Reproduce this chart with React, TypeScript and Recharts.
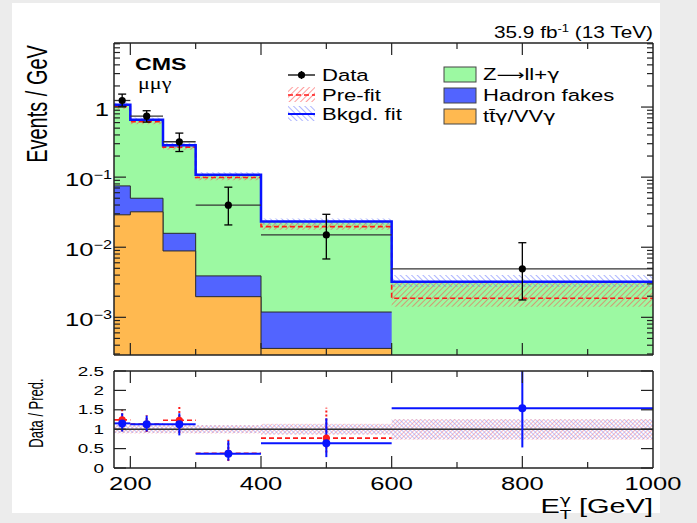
import React from 'react';
import { ComposedChart, Area, Line, Scatter, ErrorBar, XAxis, YAxis, ReferenceLine } from 'recharts';

// ---------- data ----------
const binEdges = [175, 200, 250, 300, 400, 600, 1000];
const binCenters = [187.5, 225, 275, 350, 500, 800];
const binHalfWidths = [12.5, 25, 25, 50, 100, 200];

// stacked histogram (Events / GeV)
const fitTotal = [1.08, 0.66, 0.286, 0.108, 0.0232, 0.00323]; // Z->ll+gamma stacked on top = total bkgd fit
const hadronFakes = [0.046, 0.018, 0.00695, 0.00193, 0.00083];
const ttgVVg = [0.029, 0.032, 0.00885, 0.00197, 0.00036];
const preFit = [1.02, 0.62, 0.268, 0.099, 0.0197, 0.00187];
const fitBandLow = [1.0, 0.61, 0.265, 0.1, 0.021, 0.0027];
const fitBandHigh = [1.17, 0.71, 0.31, 0.117, 0.0258, 0.004];
const preBandLow = [0.93, 0.57, 0.245, 0.09, 0.0178, 0.00142];
const preBandHigh = [1.1, 0.67, 0.29, 0.107, 0.0223, 0.0031];

const dataValues = [1.24, 0.74, 0.32, 0.0398, 0.015, 0.00492];
const dataLow = [1.02, 0.61, 0.232, 0.0208, 0.0068, 0.00177];
const dataHigh = [1.53, 0.886, 0.425, 0.0719, 0.0295, 0.0116];

// ratio panel
const ratioFit = [1.15, 1.13, 1.13, 0.37, 0.64, 1.54];
const ratioFitLow = [0.94, 0.94, 0.84, 0.19, 0.28, 0.53];
const ratioFitHigh = [1.41, 1.35, 1.41, 0.7, 1.28, 2.5];
const ratioPre = [1.24, 1.13, 1.23, 0.38, 0.77];
const ratioPreLow = [0.95, 0.93, 0.9, 0.18, 0.4];
const ratioPreHigh = [1.5, 1.36, 1.62, 0.73, 1.55];
const ratioFitBandLow = [0.9, 0.9, 0.9, 0.9, 0.87, 0.74];
const ratioFitBandHigh = [1.1, 1.1, 1.1, 1.1, 1.13, 1.25];
const ratioPreBandLow = [0.89, 0.89, 0.89, 0.89, 0.86, 0.73];
const ratioPreBandHigh = [1.11, 1.11, 1.11, 1.11, 1.14, 1.26];

// ticks
const xTicksTop = [200, 300, 400, 500, 600, 700, 800, 900];
const xTicksRatio = [200, 300, 400, 500, 600, 700, 800, 900, 1000];
const xMajor = [200, 400, 600, 800, 1000];
const yLogTicks = [
  0.0003, 0.0004, 0.0005, 0.0006, 0.0007, 0.0008, 0.0009,
  0.001, 0.002, 0.003, 0.004, 0.005, 0.006, 0.007, 0.008, 0.009,
  0.01, 0.02, 0.03, 0.04, 0.05, 0.06, 0.07, 0.08, 0.09,
  0.1, 0.2, 0.3, 0.4, 0.5, 0.6, 0.7, 0.8, 0.9,
  1, 2, 3, 4, 5, 6, 7, 8,
];
const yRatioTicks = [0, 0.5, 1, 1.5, 2, 2.5];
const yRatioLabels = ['0', '0.5', '1', '1.5', '2', '2.5'];

const Y_DOMAIN: [number, number] = [0.00029, 8.2];

// ---------- derived tables ----------
const stepValue = (arr: number[], i: number): number | null =>
  i < arr.length ? arr[i] : i === arr.length ? arr[arr.length - 1] : null;

const fakesStack = hadronFakes.map((v, i) => v + ttgVVg[i]);

const topRows = binEdges.map((x, i) => ({
  x,
  total: stepValue(fitTotal, i),
  fakesTop: stepValue(fakesStack, i),
  ttg: stepValue(ttgVVg, i),
  pre: stepValue(preFit, i),
  fitBand: [stepValue(fitBandLow, i), stepValue(fitBandHigh, i)],
  preBand: [stepValue(preBandLow, i), stepValue(preBandHigh, i)],
}));

const dataPoints = binCenters.map((x, i) => ({
  x,
  y: dataValues[i],
  ex: binHalfWidths[i],
  ey: [dataValues[i] - dataLow[i], dataHigh[i] - dataValues[i]],
}));

const ratioRows = binEdges.map((x, i) => ({
  x,
  fitBand: [stepValue(ratioFitBandLow, i), stepValue(ratioFitBandHigh, i)],
  preBand: [stepValue(ratioPreBandLow, i), stepValue(ratioPreBandHigh, i)],
}));

const ratioFitPoints = binCenters.map((x, i) => ({
  x,
  y: ratioFit[i],
  ex: binHalfWidths[i],
  ey: [ratioFit[i] - ratioFitLow[i], ratioFitHigh[i] - ratioFit[i]],
}));

const ratioPrePoints = ratioPre.map((v, i) => ({
  x: binCenters[i],
  y: v,
  ex: binHalfWidths[i],
  ey: [v - ratioPreLow[i], ratioPreHigh[i] - v],
}));

// ---------- styling helpers ----------
const FONT = '"Liberation Sans", Arial, Helvetica, sans-serif';
const GREEK = '"DejaVu Sans", "Liberation Sans", sans-serif';
const AXIS = { stroke: '#222', strokeWidth: 1.5 };
const TICK = '#222';

function ST(props: any) {
  const { x, y, size, sx = 1.35, anchor = 'start', weight = 'normal', family = FONT, fill = '#000', children } = props;
  return (
    <text
      transform={`translate(${x},${y}) scale(${sx},1)`}
      fontSize={size}
      textAnchor={anchor}
      fontWeight={weight}
      fontFamily={family}
      fill={fill}
    >
      {children}
    </text>
  );
}

const isDecade = (v: number) => Math.abs(Math.log10(v) - Math.round(Math.log10(v))) < 1e-6;

const LeftLogTick = (props: any) => {
  const { x, y, payload } = props;
  const v = payload.value;
  const major = isDecade(v);
  const exp = Math.round(Math.log10(v));
  return (
    <g>
      <line x1={x} y1={y} x2={x + (major ? 12 : 6)} y2={y} stroke={TICK} strokeWidth={1.2} />
      {major &&
        (exp === 0 ? (
          <ST x={x - 5} y={y + 9} size={19} anchor="end">1</ST>
        ) : (
          <ST x={x - 2} y={y + 9} size={19} anchor="end">
            10<tspan dy={-7} fontSize={12}>{'\u2212' + String(-exp)}</tspan>
          </ST>
        ))}
    </g>
  );
};

const RightLogTick = (props: any) => {
  const { x, y, payload } = props;
  const major = isDecade(payload.value);
  return <line x1={x} y1={y} x2={x - (major ? 12 : 6)} y2={y} stroke={TICK} strokeWidth={1.2} />;
};

const BottomTick = (withLabel: boolean) => (props: any) => {
  const { x, y, payload } = props;
  const v = payload.value;
  const major = xMajor.includes(v);
  return (
    <g>
      {v !== 1000 && <line x1={x} y1={y} x2={x} y2={y - (major ? 12 : 6)} stroke={TICK} strokeWidth={1.2} />}
      {withLabel && major && (
        <ST x={x} y={y + 22} size={18.5} sx={1.38} anchor="middle">{String(v)}</ST>
      )}
    </g>
  );
};

const TopTick = (props: any) => {
  const { x, y, payload } = props;
  const v = payload.value;
  if (v === 1000) return <g />;
  const major = xMajor.includes(v);
  return <line x1={x} y1={y} x2={x} y2={y + (major ? 12 : 6)} stroke={TICK} strokeWidth={1.2} />;
};

const RatioLeftTick = (props: any) => {
  const { x, y, payload, index } = props;
  return (
    <g>
      <line x1={x} y1={y} x2={x + 12} y2={y} stroke={TICK} strokeWidth={1.2} />
      <ST x={x - 10} y={y + 4.5} size={13} sx={1.45} anchor="end">{yRatioLabels[index] ?? String(payload.value)}</ST>
    </g>
  );
};

const RatioRightTick = (props: any) => {
  const { x, y } = props;
  return <line x1={x} y1={y} x2={x - 12} y2={y} stroke={TICK} strokeWidth={1.2} />;
};

const dot = (r: number, fill: string) => (p: any) => <circle cx={p.cx} cy={p.cy} r={r} fill={fill} />;

export default function App() {
  return (
    <div style={{ position: 'absolute', left: 0, top: 0, width: 697, height: 523, background: '#ececec', overflow: 'hidden' }}>
      <div style={{ position: 'absolute', left: 12, top: 3, width: 648, height: 510, background: '#ffffff' }} />
      <svg width={0} height={0} style={{ position: 'absolute' }}>
        <defs>
          <pattern id="hatchRed" patternUnits="userSpaceOnUse" width="4" height="4" patternTransform="rotate(45)">
            <line x1="0" y1="0" x2="0" y2="4" stroke="#ff4a4a" strokeWidth="1.1" />
          </pattern>
          <pattern id="hatchBlue" patternUnits="userSpaceOnUse" width="4" height="4" patternTransform="rotate(-45)">
            <line x1="0" y1="0" x2="0" y2="4" stroke="#6a78ff" strokeWidth="1.1" />
          </pattern>
          <pattern id="xRed" patternUnits="userSpaceOnUse" width="3" height="3" patternTransform="rotate(45)">
            <line x1="0" y1="0" x2="0" y2="3" stroke="#ff6a6a" strokeWidth="0.9" />
          </pattern>
          <pattern id="xBlue" patternUnits="userSpaceOnUse" width="3" height="3" patternTransform="rotate(-45)">
            <line x1="0" y1="0" x2="0" y2="3" stroke="#7a86ff" strokeWidth="0.9" />
          </pattern>
        </defs>
      </svg>

      {/* ---------- main panel ---------- */}
      <div style={{ position: 'absolute', left: 0, top: 0 }}>
        <ComposedChart width={697} height={360} data={topRows} margin={{ top: 42, right: 43, bottom: 4, left: 113 }}>
          <XAxis xAxisId="b" dataKey="x" type="number" domain={[175, 1000]} allowDataOverflow ticks={xTicksTop}
            interval={0} height={1} tickSize={0} tickMargin={0} tickLine={false} axisLine={AXIS} tick={BottomTick(false)} />
          <XAxis xAxisId="t" orientation="top" dataKey="x" type="number" domain={[175, 1000]} allowDataOverflow ticks={xTicksTop}
            interval={0} height={1} tickSize={0} tickMargin={0} tickLine={false} axisLine={AXIS} tick={TopTick} />
          <YAxis yAxisId="l" type="number" scale="log" domain={Y_DOMAIN} allowDataOverflow ticks={yLogTicks}
            interval={0} width={1} tickSize={0} tickMargin={0} tickLine={false} axisLine={AXIS} tick={LeftLogTick} />
          <YAxis yAxisId="r" orientation="right" type="number" scale="log" domain={Y_DOMAIN} allowDataOverflow ticks={yLogTicks}
            interval={0} width={1} tickSize={0} tickMargin={0} tickLine={false} axisLine={AXIS} tick={RightLogTick} />

          <Area xAxisId="b" yAxisId="l" type="stepAfter" dataKey="total" baseValue="dataMin" fill="#9cf9a2" fillOpacity={1}
            stroke="none" isAnimationActive={false} dot={false} activeDot={false} />
          <Area xAxisId="b" yAxisId="l" type="stepAfter" dataKey="fakesTop" baseValue="dataMin" fill="#5264ff" fillOpacity={1}
            stroke="#2a2a2a" strokeWidth={1} isAnimationActive={false} dot={false} activeDot={false} />
          <Area xAxisId="b" yAxisId="l" type="stepAfter" dataKey="ttg" baseValue="dataMin" fill="#ffb950" fillOpacity={1}
            stroke="#2a2a2a" strokeWidth={1} isAnimationActive={false} dot={false} activeDot={false} />
          <Area xAxisId="b" yAxisId="l" type="stepAfter" dataKey="preBand" fill="url(#hatchRed)" fillOpacity={1}
            stroke="none" isAnimationActive={false} dot={false} activeDot={false} />
          <Area xAxisId="b" yAxisId="l" type="stepAfter" dataKey="fitBand" fill="url(#hatchBlue)" fillOpacity={1}
            stroke="none" isAnimationActive={false} dot={false} activeDot={false} />
          <Line xAxisId="b" yAxisId="l" type="stepAfter" dataKey="pre" stroke="#ff1a1a" strokeWidth={1.6}
            strokeDasharray="5 3" dot={false} activeDot={false} isAnimationActive={false} />
          <Line xAxisId="b" yAxisId="l" type="stepAfter" dataKey="total" stroke="#0814ff" strokeWidth={2.5}
            dot={false} activeDot={false} isAnimationActive={false} />
          <Scatter xAxisId="b" yAxisId="l" data={dataPoints} dataKey="y" shape={dot(3.6, '#000')} isAnimationActive={false}>
            <ErrorBar dataKey="ex" direction="x" width={0} stroke="#333" strokeWidth={1.3} />
            <ErrorBar dataKey="ey" direction="y" width={4} stroke="#000" strokeWidth={1.3} />
          </Scatter>

          {/* annotations */}
          <ST x={653} y={38} size={16} sx={1.3} anchor="end">
            35.9 fb<tspan dy={-6} fontSize={10}>-1</tspan><tspan dy={6}> (13 TeV)</tspan>
          </ST>
          <ST x={135} y={70} size={16} sx={1.45} weight="bold">CMS</ST>
          <ST x={138} y={89} size={17} sx={1.3} family='"Liberation Serif", "DejaVu Serif", serif'>μμγ</ST>
          <text transform="translate(47,104) scale(1.45,1) rotate(-90)" fontSize={20} textAnchor="middle" fontFamily={FONT}>
            Events / GeV
          </text>

          {/* legend */}
          <line x1={288} y1={75} x2={315} y2={75} stroke="#000" strokeWidth={1.3} />
          <line x1={301.5} y1={71} x2={301.5} y2={79} stroke="#000" strokeWidth={1.3} />
          <circle cx={301.5} cy={75} r={3.6} fill="#000" />
          <ST x={322} y={81} size={17} sx={1.3}>Data</ST>
          <rect x={288} y={87} width={27} height={15} fill="url(#hatchRed)" />
          <line x1={288} y1={95} x2={315} y2={95} stroke="#ff1a1a" strokeWidth={1.6} strokeDasharray="5 3" />
          <ST x={322} y={101} size={17} sx={1.3}>Pre-fit</ST>
          <rect x={288} y={106} width={27} height={15} fill="url(#hatchBlue)" />
          <line x1={288} y1={114} x2={315} y2={114} stroke="#0814ff" strokeWidth={2} />
          <ST x={322} y={120} size={17} sx={1.3}>Bkgd. fit</ST>

          <rect x={444} y={67} width={32} height={15} fill="#9cf9a2" stroke="#444" strokeWidth={1} />
          <ST x={483} y={80} size={17} sx={1.3}>Z<tspan fontFamily={GREEK} fontSize={15}>⟶</tspan>ll+<tspan fontFamily={GREEK} fontSize={16}>γ</tspan></ST>
          <rect x={444} y={88} width={32} height={15} fill="#5264ff" stroke="#444" strokeWidth={1} />
          <ST x={483} y={101} size={17} sx={1.3}>Hadron fakes</ST>
          <rect x={444} y={109} width={32} height={15} fill="#ffb950" stroke="#444" strokeWidth={1} />
          <ST x={483} y={122} size={17} sx={1.3}>{'tt\u0304'}<tspan fontFamily={GREEK} fontSize={16}>γ</tspan>/VV<tspan fontFamily={GREEK} fontSize={16}>γ</tspan></ST>
        </ComposedChart>
      </div>

      {/* ---------- ratio panel ---------- */}
      <div style={{ position: 'absolute', left: 0, top: 360 }}>
        <ComposedChart width={697} height={163} data={ratioRows} margin={{ top: 10, right: 43, bottom: 54, left: 113 }}>
          <XAxis xAxisId="b" dataKey="x" type="number" domain={[175, 1000]} allowDataOverflow ticks={xTicksRatio}
            interval={0} height={1} tickSize={0} tickMargin={0} tickLine={false} axisLine={AXIS} tick={BottomTick(true)} />
          <XAxis xAxisId="t" orientation="top" dataKey="x" type="number" domain={[175, 1000]} allowDataOverflow ticks={xTicksRatio}
            interval={0} height={1} tickSize={0} tickMargin={0} tickLine={false} axisLine={AXIS} tick={TopTick} />
          <YAxis yAxisId="l" type="number" domain={[0, 2.5]} allowDataOverflow ticks={yRatioTicks}
            interval={0} width={1} tickSize={0} tickMargin={0} tickLine={false} axisLine={AXIS} tick={RatioLeftTick} />
          <YAxis yAxisId="r" orientation="right" type="number" domain={[0, 2.5]} allowDataOverflow ticks={yRatioTicks}
            interval={0} width={1} tickSize={0} tickMargin={0} tickLine={false} axisLine={AXIS} tick={RatioRightTick} />

          <Area xAxisId="b" yAxisId="l" type="stepAfter" dataKey="preBand" fill="url(#xRed)" fillOpacity={1}
            stroke="none" isAnimationActive={false} dot={false} activeDot={false} />
          <Area xAxisId="b" yAxisId="l" type="stepAfter" dataKey="fitBand" fill="url(#xBlue)" fillOpacity={1}
            stroke="none" isAnimationActive={false} dot={false} activeDot={false} />
          <ReferenceLine xAxisId="b" yAxisId="l" y={1} stroke="#333" strokeWidth={1.5} />

          <Scatter xAxisId="b" yAxisId="l" data={ratioPrePoints} dataKey="y" shape={dot(3.6, '#ff1a1a')} isAnimationActive={false}>
            <ErrorBar dataKey="ex" direction="x" width={0} stroke="#ff1a1a" strokeWidth={1.6} strokeDasharray="5 3" />
            <ErrorBar dataKey="ey" direction="y" width={0} stroke="#ff1a1a" strokeWidth={2} strokeDasharray="2 2" />
          </Scatter>
          <Scatter xAxisId="b" yAxisId="l" data={ratioFitPoints} dataKey="y" shape={dot(4, '#0814ff')} isAnimationActive={false}>
            <ErrorBar dataKey="ex" direction="x" width={0} stroke="#0814ff" strokeWidth={2} />
            <ErrorBar dataKey="ey" direction="y" width={0} stroke="#0814ff" strokeWidth={2} />
          </Scatter>

          <text transform="translate(43,53) scale(1.5,1) rotate(-90)" fontSize={13} textAnchor="middle" fontFamily={FONT}>
            Data / Pred.
          </text>
          <ST x={653} y={153} size={20} sx={1.45} anchor="end">
            E<tspan dy={6} fontSize={13}>T</tspan><tspan dx={-8} dy={-15} fontSize={13} fontFamily={GREEK}>γ</tspan>
            <tspan dy={9}> [GeV]</tspan>
          </ST>
        </ComposedChart>
      </div>
    </div>
  );
}
